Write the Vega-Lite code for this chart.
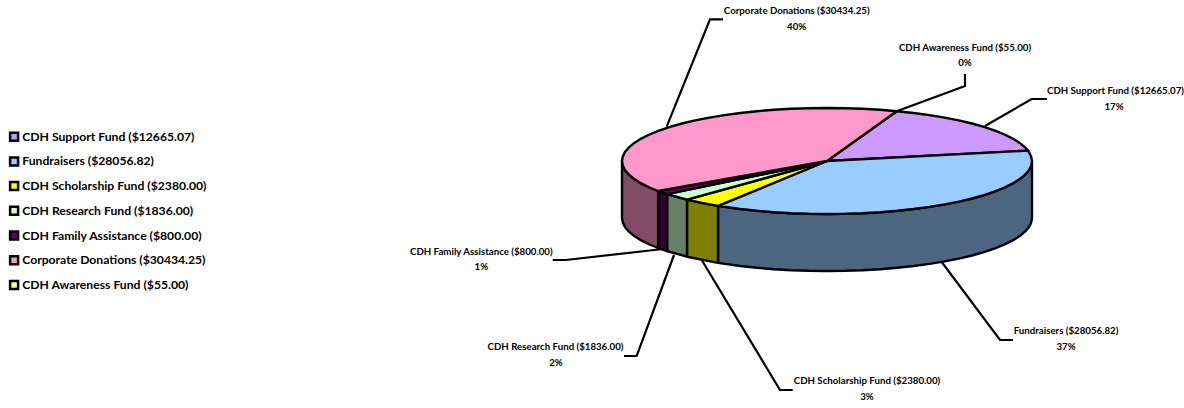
{"$schema":"https://vega.github.io/schema/vega-lite/v6.json","width":1184,"height":408,"padding":0,"autosize":{"type":"none"},"background":"white","config":{"view":{"stroke":null}},
"datasets":{
"top":[
{"s":"CDH Support Fund ($12665.07)","i":0,"x":827,"y":161},{"s":"CDH Support Fund ($12665.07)","i":1,"x":896.7,"y":111.2},{"s":"CDH Support Fund ($12665.07)","i":1.5,"x":913.6,"y":113},{"s":"CDH Support Fund ($12665.07)","i":2,"x":929.5,"y":115.1},{"s":"CDH Support Fund ($12665.07)","i":2.5,"x":944.6,"y":117.6},{"s":"CDH Support Fund ($12665.07)","i":3,"x":958.8,"y":120.4},{"s":"CDH Support Fund ($12665.07)","i":3.5,"x":972,"y":123.5},{"s":"CDH Support Fund ($12665.07)","i":4,"x":984,"y":126.9},{"s":"CDH Support Fund ($12665.07)","i":4.5,"x":994.9,"y":130.6},{"s":"CDH Support Fund ($12665.07)","i":5,"x":1004.5,"y":134.5},{"s":"CDH Support Fund ($12665.07)","i":5.5,"x":1012.8,"y":138.6},{"s":"CDH Support Fund ($12665.07)","i":6,"x":1019.7,"y":142.9},{"s":"CDH Support Fund ($12665.07)","i":6.5,"x":1025,"y":147.3},{"s":"CDH Support Fund ($12665.07)","i":7,"x":1028.1,"y":150.6},{"s":"CDH Support Fund ($12665.07)","i":8,"x":827,"y":161},
{"s":"Fundraisers ($28056.82)","i":0,"x":827,"y":161},{"s":"Fundraisers ($28056.82)","i":1,"x":1028.1,"y":150.6},{"s":"Fundraisers ($28056.82)","i":1.5,"x":1031,"y":156},{"s":"Fundraisers ($28056.82)","i":2,"x":1032,"y":161},{"s":"Fundraisers ($28056.82)","i":2.5,"x":1031.2,"y":165.6},{"s":"Fundraisers ($28056.82)","i":3,"x":1028.9,"y":170.2},{"s":"Fundraisers ($28056.82)","i":3.5,"x":1025,"y":174.7},{"s":"Fundraisers ($28056.82)","i":4,"x":1019.7,"y":179.1},{"s":"Fundraisers ($28056.82)","i":4.5,"x":1012.8,"y":183.4},{"s":"Fundraisers ($28056.82)","i":5,"x":1004.5,"y":187.5},{"s":"Fundraisers ($28056.82)","i":5.5,"x":994.9,"y":191.4},{"s":"Fundraisers ($28056.82)","i":6,"x":984,"y":195.1},{"s":"Fundraisers ($28056.82)","i":6.5,"x":972,"y":198.5},{"s":"Fundraisers ($28056.82)","i":7,"x":958.8,"y":201.6},{"s":"Fundraisers ($28056.82)","i":7.5,"x":944.6,"y":204.4},{"s":"Fundraisers ($28056.82)","i":8,"x":929.5,"y":206.9},{"s":"Fundraisers ($28056.82)","i":8.5,"x":913.6,"y":209},{"s":"Fundraisers ($28056.82)","i":9,"x":897.1,"y":210.8},{"s":"Fundraisers ($28056.82)","i":9.5,"x":880.1,"y":212.2},{"s":"Fundraisers ($28056.82)","i":10,"x":862.6,"y":213.2},{"s":"Fundraisers ($28056.82)","i":10.5,"x":844.9,"y":213.8},{"s":"Fundraisers ($28056.82)","i":11,"x":827,"y":214},{"s":"Fundraisers ($28056.82)","i":11.5,"x":809.1,"y":213.8},{"s":"Fundraisers ($28056.82)","i":12,"x":791.4,"y":213.2},{"s":"Fundraisers ($28056.82)","i":12.5,"x":773.9,"y":212.2},{"s":"Fundraisers ($28056.82)","i":13,"x":756.9,"y":210.8},{"s":"Fundraisers ($28056.82)","i":13.5,"x":740.4,"y":209},{"s":"Fundraisers ($28056.82)","i":14,"x":718,"y":205.9},{"s":"Fundraisers ($28056.82)","i":15,"x":827,"y":161},
{"s":"CDH Scholarship Fund ($2380.00)","i":0,"x":827,"y":161},{"s":"CDH Scholarship Fund ($2380.00)","i":1,"x":718,"y":205.9},{"s":"CDH Scholarship Fund ($2380.00)","i":2,"x":702,"y":203},{"s":"CDH Scholarship Fund ($2380.00)","i":3,"x":687,"y":199.7},{"s":"CDH Scholarship Fund ($2380.00)","i":4,"x":827,"y":161},
{"s":"CDH Research Fund ($1836.00)","i":0,"x":827,"y":161},{"s":"CDH Research Fund ($1836.00)","i":1,"x":687,"y":199.7},{"s":"CDH Research Fund ($1836.00)","i":2,"x":667.1,"y":194.1},{"s":"CDH Research Fund ($1836.00)","i":3,"x":827,"y":161},
{"s":"CDH Family Assistance ($800.00)","i":0,"x":827,"y":161},{"s":"CDH Family Assistance ($800.00)","i":1,"x":667.1,"y":194.1},{"s":"CDH Family Assistance ($800.00)","i":2,"x":658.1,"y":191},{"s":"CDH Family Assistance ($800.00)","i":3,"x":827,"y":161},
{"s":"Corporate Donations ($30434.25)","i":0,"x":827,"y":161},{"s":"Corporate Donations ($30434.25)","i":1,"x":658.1,"y":191},{"s":"Corporate Donations ($30434.25)","i":2,"x":649.5,"y":187.5},{"s":"Corporate Donations ($30434.25)","i":2.5,"x":641.2,"y":183.4},{"s":"Corporate Donations ($30434.25)","i":3,"x":634.3,"y":179.1},{"s":"Corporate Donations ($30434.25)","i":3.5,"x":629,"y":174.7},{"s":"Corporate Donations ($30434.25)","i":4,"x":625.1,"y":170.2},{"s":"Corporate Donations ($30434.25)","i":4.5,"x":622.8,"y":165.6},{"s":"Corporate Donations ($30434.25)","i":5,"x":622,"y":161},{"s":"Corporate Donations ($30434.25)","i":5.5,"x":622.8,"y":156.4},{"s":"Corporate Donations ($30434.25)","i":6,"x":625.1,"y":151.8},{"s":"Corporate Donations ($30434.25)","i":6.5,"x":629,"y":147.3},{"s":"Corporate Donations ($30434.25)","i":7,"x":634.3,"y":142.9},{"s":"Corporate Donations ($30434.25)","i":7.5,"x":641.2,"y":138.6},{"s":"Corporate Donations ($30434.25)","i":8,"x":649.5,"y":134.5},{"s":"Corporate Donations ($30434.25)","i":8.5,"x":659.1,"y":130.6},{"s":"Corporate Donations ($30434.25)","i":9,"x":670,"y":126.9},{"s":"Corporate Donations ($30434.25)","i":9.5,"x":682,"y":123.5},{"s":"Corporate Donations ($30434.25)","i":10,"x":695.2,"y":120.4},{"s":"Corporate Donations ($30434.25)","i":10.5,"x":709.4,"y":117.6},{"s":"Corporate Donations ($30434.25)","i":11,"x":724.5,"y":115.1},{"s":"Corporate Donations ($30434.25)","i":11.5,"x":740.4,"y":113},{"s":"Corporate Donations ($30434.25)","i":12,"x":756.9,"y":111.2},{"s":"Corporate Donations ($30434.25)","i":12.5,"x":773.9,"y":109.8},{"s":"Corporate Donations ($30434.25)","i":13,"x":791.4,"y":108.8},{"s":"Corporate Donations ($30434.25)","i":13.5,"x":809.1,"y":108.2},{"s":"Corporate Donations ($30434.25)","i":14,"x":827,"y":108},{"s":"Corporate Donations ($30434.25)","i":14.5,"x":844.9,"y":108.2},{"s":"Corporate Donations ($30434.25)","i":15,"x":862.6,"y":108.8},{"s":"Corporate Donations ($30434.25)","i":15.5,"x":880.1,"y":109.8},{"s":"Corporate Donations ($30434.25)","i":16,"x":896.7,"y":111.2},{"s":"Corporate Donations ($30434.25)","i":17,"x":827,"y":161}
],
"side":[
{"s":"Fundraisers ($28056.82)","i":0,"x":1032,"y":161},{"s":"Fundraisers ($28056.82)","i":0.5,"x":1031.2,"y":165.6},{"s":"Fundraisers ($28056.82)","i":1,"x":1028.9,"y":170.2},{"s":"Fundraisers ($28056.82)","i":1.5,"x":1025,"y":174.7},{"s":"Fundraisers ($28056.82)","i":2,"x":1019.7,"y":179.1},{"s":"Fundraisers ($28056.82)","i":2.5,"x":1012.8,"y":183.4},{"s":"Fundraisers ($28056.82)","i":3,"x":1004.5,"y":187.5},{"s":"Fundraisers ($28056.82)","i":3.5,"x":994.9,"y":191.4},{"s":"Fundraisers ($28056.82)","i":4,"x":984,"y":195.1},{"s":"Fundraisers ($28056.82)","i":4.5,"x":972,"y":198.5},{"s":"Fundraisers ($28056.82)","i":5,"x":958.8,"y":201.6},{"s":"Fundraisers ($28056.82)","i":5.5,"x":944.6,"y":204.4},{"s":"Fundraisers ($28056.82)","i":6,"x":929.5,"y":206.9},{"s":"Fundraisers ($28056.82)","i":6.5,"x":913.6,"y":209},{"s":"Fundraisers ($28056.82)","i":7,"x":897.1,"y":210.8},{"s":"Fundraisers ($28056.82)","i":7.5,"x":880.1,"y":212.2},{"s":"Fundraisers ($28056.82)","i":8,"x":862.6,"y":213.2},{"s":"Fundraisers ($28056.82)","i":8.5,"x":844.9,"y":213.8},{"s":"Fundraisers ($28056.82)","i":9,"x":827,"y":214},{"s":"Fundraisers ($28056.82)","i":9.5,"x":809.1,"y":213.8},{"s":"Fundraisers ($28056.82)","i":10,"x":791.4,"y":213.2},{"s":"Fundraisers ($28056.82)","i":10.5,"x":773.9,"y":212.2},{"s":"Fundraisers ($28056.82)","i":11,"x":756.9,"y":210.8},{"s":"Fundraisers ($28056.82)","i":11.5,"x":740.4,"y":209},{"s":"Fundraisers ($28056.82)","i":12,"x":718,"y":205.9},{"s":"Fundraisers ($28056.82)","i":13,"x":718,"y":262.9},{"s":"Fundraisers ($28056.82)","i":13.5,"x":740.4,"y":266},{"s":"Fundraisers ($28056.82)","i":14,"x":756.9,"y":267.8},{"s":"Fundraisers ($28056.82)","i":14.5,"x":773.9,"y":269.2},{"s":"Fundraisers ($28056.82)","i":15,"x":791.4,"y":270.2},{"s":"Fundraisers ($28056.82)","i":15.5,"x":809.1,"y":270.8},{"s":"Fundraisers ($28056.82)","i":16,"x":827,"y":271},{"s":"Fundraisers ($28056.82)","i":16.5,"x":844.9,"y":270.8},{"s":"Fundraisers ($28056.82)","i":17,"x":862.6,"y":270.2},{"s":"Fundraisers ($28056.82)","i":17.5,"x":880.1,"y":269.2},{"s":"Fundraisers ($28056.82)","i":18,"x":897.1,"y":267.8},{"s":"Fundraisers ($28056.82)","i":18.5,"x":913.6,"y":266},{"s":"Fundraisers ($28056.82)","i":19,"x":929.5,"y":263.9},{"s":"Fundraisers ($28056.82)","i":19.5,"x":944.6,"y":261.4},{"s":"Fundraisers ($28056.82)","i":20,"x":958.8,"y":258.6},{"s":"Fundraisers ($28056.82)","i":20.5,"x":972,"y":255.5},{"s":"Fundraisers ($28056.82)","i":21,"x":984,"y":252.1},{"s":"Fundraisers ($28056.82)","i":21.5,"x":994.9,"y":248.4},{"s":"Fundraisers ($28056.82)","i":22,"x":1004.5,"y":244.5},{"s":"Fundraisers ($28056.82)","i":22.5,"x":1012.8,"y":240.4},{"s":"Fundraisers ($28056.82)","i":23,"x":1019.7,"y":236.1},{"s":"Fundraisers ($28056.82)","i":23.5,"x":1025,"y":231.7},{"s":"Fundraisers ($28056.82)","i":24,"x":1028.9,"y":227.2},{"s":"Fundraisers ($28056.82)","i":24.5,"x":1031.2,"y":222.6},{"s":"Fundraisers ($28056.82)","i":25,"x":1032,"y":218},{"s":"Fundraisers ($28056.82)","i":26,"x":1032,"y":161},
{"s":"CDH Scholarship Fund ($2380.00)","i":0,"x":718,"y":205.9},{"s":"CDH Scholarship Fund ($2380.00)","i":1,"x":687,"y":199.7},{"s":"CDH Scholarship Fund ($2380.00)","i":2,"x":687,"y":256.7},{"s":"CDH Scholarship Fund ($2380.00)","i":3,"x":718,"y":262.9},{"s":"CDH Scholarship Fund ($2380.00)","i":4,"x":718,"y":205.9},
{"s":"CDH Research Fund ($1836.00)","i":0,"x":687,"y":199.7},{"s":"CDH Research Fund ($1836.00)","i":1,"x":667.1,"y":194.1},{"s":"CDH Research Fund ($1836.00)","i":2,"x":667.1,"y":251.1},{"s":"CDH Research Fund ($1836.00)","i":3,"x":687,"y":256.7},{"s":"CDH Research Fund ($1836.00)","i":4,"x":687,"y":199.7},
{"s":"CDH Family Assistance ($800.00)","i":0,"x":667.1,"y":194.1},{"s":"CDH Family Assistance ($800.00)","i":1,"x":658.1,"y":191},{"s":"CDH Family Assistance ($800.00)","i":2,"x":658.1,"y":248},{"s":"CDH Family Assistance ($800.00)","i":3,"x":667.1,"y":251.1},{"s":"CDH Family Assistance ($800.00)","i":4,"x":667.1,"y":194.1},
{"s":"Corporate Donations ($30434.25)","i":0,"x":658.1,"y":191},{"s":"Corporate Donations ($30434.25)","i":1,"x":649.5,"y":187.5},{"s":"Corporate Donations ($30434.25)","i":1.5,"x":641.2,"y":183.4},{"s":"Corporate Donations ($30434.25)","i":2,"x":634.3,"y":179.1},{"s":"Corporate Donations ($30434.25)","i":2.5,"x":629,"y":174.7},{"s":"Corporate Donations ($30434.25)","i":3,"x":625.1,"y":170.2},{"s":"Corporate Donations ($30434.25)","i":3.5,"x":622.8,"y":165.6},{"s":"Corporate Donations ($30434.25)","i":4,"x":622,"y":161},{"s":"Corporate Donations ($30434.25)","i":5,"x":622,"y":218},{"s":"Corporate Donations ($30434.25)","i":5.5,"x":622.8,"y":222.6},{"s":"Corporate Donations ($30434.25)","i":6,"x":625.1,"y":227.2},{"s":"Corporate Donations ($30434.25)","i":6.5,"x":629,"y":231.7},{"s":"Corporate Donations ($30434.25)","i":7,"x":634.3,"y":236.1},{"s":"Corporate Donations ($30434.25)","i":7.5,"x":641.2,"y":240.4},{"s":"Corporate Donations ($30434.25)","i":8,"x":649.5,"y":244.5},{"s":"Corporate Donations ($30434.25)","i":9,"x":658.1,"y":248},{"s":"Corporate Donations ($30434.25)","i":10,"x":658.1,"y":191}
],
"leaders":[
{"s":"Corporate","i":0,"x":666.7,"y":126.7},{"s":"Corporate","i":1,"x":710,"y":19.3},{"s":"Corporate","i":2,"x":723,"y":19.3},
{"s":"Awareness","i":0,"x":896.7,"y":111.2},{"s":"Awareness","i":1,"x":965,"y":86},{"s":"Awareness","i":2,"x":965,"y":74},
{"s":"Support","i":0,"x":985,"y":126},{"s":"Support","i":1,"x":1031.7,"y":99},{"s":"Support","i":2,"x":1047,"y":99},
{"s":"Fundraisers","i":0,"x":941.7,"y":262},{"s":"Fundraisers","i":1,"x":1000,"y":340},{"s":"Fundraisers","i":2,"x":1013,"y":340},
{"s":"Scholarship","i":0,"x":701.7,"y":260},{"s":"Scholarship","i":1,"x":780,"y":390},{"s":"Scholarship","i":2,"x":792.7,"y":390},
{"s":"Research","i":0,"x":674,"y":255},{"s":"Research","i":1,"x":636.7,"y":356},{"s":"Research","i":2,"x":624,"y":356},
{"s":"Family","i":0,"x":663,"y":249},{"s":"Family","i":1,"x":565.7,"y":260},{"s":"Family","i":2,"x":552.7,"y":260}
],
"labels":[
{"t":"Corporate Donations ($30434.25)","x":796.7,"y":10.7},{"t":"40%","x":796.7,"y":27},
{"t":"CDH Awareness Fund ($55.00)","x":965,"y":47.7},{"t":"0%","x":965,"y":62.7},
{"t":"17%","x":1114,"y":106.7},
{"t":"Fundraisers ($28056.82)","x":1066,"y":331},{"t":"37%","x":1066,"y":347},
{"t":"CDH Scholarship Fund ($2380.00)","x":867,"y":381},{"t":"3%","x":867,"y":397},
{"t":"CDH Research Fund ($1836.00)","x":555.5,"y":347.3},{"t":"2%","x":556,"y":362.7},
{"t":"CDH Family Assistance ($800.00)","x":481.3,"y":251.7},{"t":"1%","x":481.3,"y":266.7}
],
"cut":[{"t":"CDH Support Fund ($12665.07)","x":1047,"y":90.7}]
},
"layer":[
{"data":{"name":"leaders"},"mark":{"type":"line","stroke":"black","strokeWidth":2.2,"strokeJoin":"miter"},
"encoding":{"x":{"field":"x","type":"quantitative","scale":{"domain":[0,1184],"nice":false,"zero":false},"axis":null},"y":{"field":"y","type":"quantitative","scale":{"domain":[408,0],"nice":false,"zero":false},"axis":null},"detail":{"field":"s"},"order":{"field":"i"}}},
{"data":{"name":"side"},"mark":{"type":"line","stroke":"black","strokeWidth":2.4,"strokeJoin":"round"},
"encoding":{"x":{"field":"x","type":"quantitative","axis":null},"y":{"field":"y","type":"quantitative","axis":null},"order":{"field":"i"},
"fill":{"field":"s","type":"nominal","legend":null,"scale":{"domain":["CDH Support Fund ($12665.07)","Fundraisers ($28056.82)","CDH Scholarship Fund ($2380.00)","CDH Research Fund ($1836.00)","CDH Family Assistance ($800.00)","Corporate Donations ($30434.25)","CDH Awareness Fund ($55.00)"],"range":["#664C80","#4C6680","#808000","#668066","#330033","#804C66","#80804C"]}}}},
{"data":{"name":"top"},"mark":{"type":"line","stroke":"black","strokeWidth":2.4,"strokeJoin":"round"},
"encoding":{"x":{"field":"x","type":"quantitative","axis":null},"y":{"field":"y","type":"quantitative","axis":null},"order":{"field":"i"},
"fill":{"field":"s","type":"nominal","scale":{"domain":["CDH Support Fund ($12665.07)","Fundraisers ($28056.82)","CDH Scholarship Fund ($2380.00)","CDH Research Fund ($1836.00)","CDH Family Assistance ($800.00)","Corporate Donations ($30434.25)","CDH Awareness Fund ($55.00)"],"range":["#CC99FF","#99CCFF","#FFFF00","#CCFFCC","#660066","#FF99CC","#FFFF99"]},
"legend":{"title":null,"orient":"none","legendX":8,"legendY":128.7,"symbolType":"square","symbolSize":64,"symbolStrokeColor":"black","symbolStrokeWidth":2.5,"symbolOpacity":1,"labelFont":"Lato","labelFontWeight":"bold","labelFontSize":12.2,"labelColor":"black","labelLimit":400,"rowPadding":8.7,"labelOffset":2,"clipHeight":16}}}},
{"data":{"name":"labels"},"mark":{"type":"text","font":"Lato","fontWeight":"bold","fontSize":9.7,"color":"black","align":"center","baseline":"middle"},
"encoding":{"x":{"field":"x","type":"quantitative","axis":null},"y":{"field":"y","type":"quantitative","axis":null},"text":{"field":"t"}}},
{"data":{"name":"cut"},"mark":{"type":"text","font":"Lato","fontWeight":"bold","fontSize":9.7,"color":"black","align":"left","baseline":"middle","limit":137,"ellipsis":" "},
"encoding":{"x":{"field":"x","type":"quantitative","axis":null},"y":{"field":"y","type":"quantitative","axis":null},"text":{"field":"t"}}}
],
"resolve":{"scale":{"fill":"independent"},"legend":{"fill":"independent"}}}
